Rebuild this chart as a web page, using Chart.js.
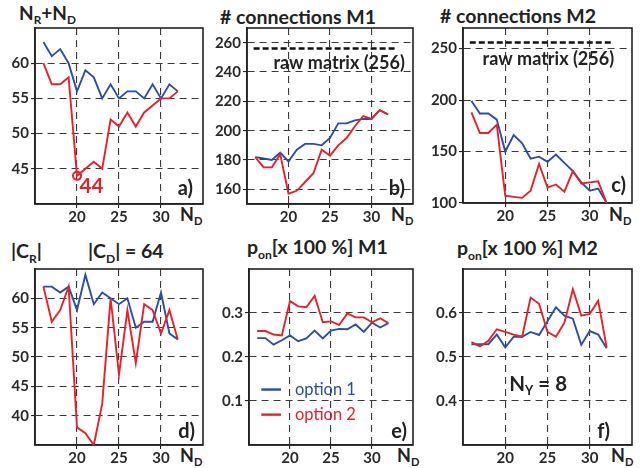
<!DOCTYPE html>
<html><head><meta charset="utf-8">
<script src="https://cdn.jsdelivr.net/npm/chart.js@4"></script>
<style>
body{margin:0;background:#fff;width:641px;height:468px;position:relative;overflow:hidden;font-family:Lato,sans-serif;}
canvas{position:absolute;}
.t{position:absolute;font-weight:bold;color:#222;white-space:nowrap;line-height:1;}
.t sub{font-size:0.62em;vertical-align:-0.38em;line-height:0;}
</style></head><body>
<div class="t" style="left:19px;top:3px;font-size:19px">N<sub>R</sub>+N<sub>D</sub></div>
<div class="t" style="left:220px;top:7px;font-size:19.5px"># connections M1</div>
<div class="t" style="left:440px;top:6px;font-size:19.5px"># connections M2</div>
<div class="t" style="left:11px;top:241px;font-size:19.5px">|C<sub>R</sub>|</div>
<div class="t" style="left:88px;top:241px;font-size:19.5px">|C<sub>D</sub>| = 64</div>
<div class="t" style="left:247px;top:237px;font-size:19.5px">p<sub>on</sub>[x 100 %] M1</div>
<div class="t" style="left:457px;top:238px;font-size:19.5px">p<sub>on</sub>[x 100 %] M2</div>
<div class="t" style="left:180px;top:205px;font-size:18px">N<sub>D</sub></div>
<div class="t" style="left:391px;top:205px;font-size:18px">N<sub>D</sub></div>
<div class="t" style="left:609px;top:205px;font-size:18px">N<sub>D</sub></div>
<div class="t" style="left:180px;top:446px;font-size:18px">N<sub>D</sub></div>
<div class="t" style="left:397px;top:446px;font-size:18px">N<sub>D</sub></div>
<div class="t" style="left:611px;top:446px;font-size:18px">N<sub>D</sub></div>
<script>
// ---- data ----
const nd = [16,17,18,19,20,21,22,23,24,25,26,27,28,29,30,31,32];
const xTicks = [20,25,30];

const nrndOpt1 = [63,61,62,60,56,59,58,55,57,55,56,56,55,57,55,57,56];
const nrndOpt2 = [60,57,57,58,44,45,46,45,52,51,53,51,53,54,55,55,56];
const yTicksA = [45,50,55,60];

const connM1Opt1 = [182,181,180,185,179,187,191,191,190,195,205,205,207,208,208,214,211];
const connM1Opt2 = [182,175,175,184,157,159,165,171,187,183,190,195,203,210,208,214,211];
const yTicksB = [160,180,200,220,240,260];

const connM2Opt1 = [199,187,187,181,150,166,158,143,145,140,147,139,131,120,112,114,100];
const connM2Opt2 = [188,168,168,176,107,106,105,112,138,115,118,111,131,119,120,121,100];
const yTicksC = [100,150,200,250];

const rawMatrix = 256;
const rawSpan = [15.8, 32.8];

const crOpt1 = [62,62,61,62,58,64,59,61,60,59,60,55,56,56,61,54,53];
const crOpt2 = [62,56,58,62,38,37,35,42,60,47,58,49,59,58,54,58,53];
const yTicksD = [40,45,50,55,60];

const ponM1Opt1 = [0.243,0.243,0.228,0.238,0.249,0.236,0.242,0.26,0.242,0.26,0.264,0.263,0.274,0.257,0.278,0.267,0.277];
const ponM1Opt2 = [0.259,0.259,0.251,0.249,0.327,0.315,0.313,0.339,0.279,0.281,0.273,0.299,0.29,0.29,0.279,0.288,0.277];
const yTicksE = [0.1,0.2,0.3];

const ponM2Opt1 = [0.529,0.529,0.529,0.551,0.522,0.546,0.546,0.557,0.55,0.581,0.613,0.594,0.587,0.528,0.559,0.551,0.52];
const ponM2Opt2 = [0.534,0.524,0.537,0.563,0.557,0.551,0.546,0.635,0.621,0.557,0.546,0.578,0.654,0.594,0.598,0.628,0.522];
const yTicksF = [0.4,0.5,0.6];

const seriesNames = ['option 1','option 2'];

// ---- styling ----
const BLUE = '#2b4ea5', RED = '#e8202a', INK = '#222';
const FONT = 'Lato, sans-serif';

function series(vals, color, order, extra){
  return Object.assign({
    data: nd.map((x,i)=>({x:x, y:vals[i]})),
    borderColor: color, borderWidth: 1.9, pointRadius: 0, tension: 0, fill: false, order: order
  }, extra||{});
}
function rawLine(){
  return {data: rawSpan.map(x=>({x:x, y:rawMatrix})), borderColor:'#111', borderWidth:2.5,
          borderDash:[6,3], pointRadius:0, order:0};
}

function drawRich(ctx, parts, x, y, size, color, align){
  ctx.save();
  ctx.fillStyle = color; ctx.textBaseline = 'alphabetic';
  let w = 0;
  parts.forEach(p=>{ ctx.font = 'bold ' + (p.sub? size*0.62 : size) + 'px ' + FONT; w += ctx.measureText(p.t).width; });
  let cx = align==='center' ? x - w/2 : (align==='right' ? x - w : x);
  parts.forEach(p=>{
    const s = p.sub? size*0.62 : size;
    ctx.font = 'bold ' + s + 'px ' + FONT;
    ctx.textAlign = 'left';
    ctx.fillText(p.t, cx, p.sub ? y + size*0.22 : y);
    cx += ctx.measureText(p.t).width;
  });
  ctx.restore();
}

function panelPlugin(notes){
  return {
    id: 'panelDeco',
    beforeDatasetsDraw(chart){
      const a = chart.chartArea, ctx = chart.ctx;
      ctx.save(); ctx.setLineDash([]); ctx.strokeStyle = INK; ctx.lineWidth = 1.6;
      ctx.strokeRect(a.left, a.top, a.right-a.left, a.bottom-a.top);
      ctx.restore();
    },
    afterDatasetsDraw(chart){
      const a = chart.chartArea, ctx = chart.ctx, xs = chart.scales.x, ys = chart.scales.y;
      notes.forEach(n=>{
        if (n.type === 'corner'){
          drawRich(ctx, [{t:n.text}], a.right - n.dx, a.bottom - n.dy, 20, INK, 'right');
        } else if (n.type === 'text'){
          drawRich(ctx, n.parts, xs.getPixelForValue(n.x), ys.getPixelForValue(n.y), n.size, n.color, n.align||'left');
        } else if (n.type === 'legend'){
          n.items.forEach((it,i)=>{
            const py = ys.getPixelForValue(it.y);
            ctx.save(); ctx.strokeStyle = it.color; ctx.lineWidth = 2.4; ctx.setLineDash([]);
            ctx.beginPath(); ctx.moveTo(xs.getPixelForValue(n.x1), py); ctx.lineTo(xs.getPixelForValue(n.x2), py); ctx.stroke();
            ctx.fillStyle = it.color; ctx.font = '16.5px ' + FONT; ctx.textBaseline = 'middle'; ctx.textAlign='left';
            ctx.fillText(it.label, xs.getPixelForValue(n.xt), py);
            ctx.restore();
          });
        }
      });
    }
  };
}

function makePanel(box, yMin, yMax, yTicks, datasets, notes){
  const padL = 44, padT = 10, padR = 14, padB = 28;
  const w = box.R - box.L + padL + padR, h = box.B - box.T + padT + padB;
  const c = document.createElement('canvas');
  c.width = w; c.height = h;
  c.style.left = (box.L - padL) + 'px'; c.style.top = (box.T - padT) + 'px';
  c.style.width = w + 'px'; c.style.height = h + 'px';
  document.body.appendChild(c);
  const tickFont = {family: FONT, weight: 'bold', size: 15};
  const grid = {color: '#3a3a3a', lineWidth: 1.1, tickLength: 4, tickColor: INK, drawTicks: true};
  const border = {display: true, color: INK, width: 1.6, dash: [7,5]};
  new Chart(c, {
    type: 'line',
    data: {datasets: datasets},
    options: {
      responsive: false, animation: false, devicePixelRatio: 1,
      layout: {padding: {left: 0, top: padT, right: padR, bottom: 0}},
      plugins: {legend: {display: false}, tooltip: {enabled: false}},
      scales: {
        x: {type: 'linear', min: 15, max: 35,
            afterBuildTicks: s => { s.ticks = xTicks.map(v => ({value: v})); },
            afterFit: s => { s.height = padB; },
            grid: grid, border: border,
            ticks: {font: tickFont, color: '#2a2a2a', padding: 0, maxRotation: 0, autoSkip: false, callback: v => String(v)}},
        y: {type: 'linear', min: yMin, max: yMax,
            afterBuildTicks: s => { s.ticks = yTicks.map(v => ({value: v})); },
            afterFit: s => { s.width = padL; },
            grid: grid, border: border,
            ticks: {font: tickFont, color: '#2a2a2a', padding: 2, autoSkip: false, callback: v => String(v)}}
      }
    },
    plugins: [panelPlugin(notes)]
  });
}

function build(){
  const minIdx = nrndOpt2.indexOf(Math.min.apply(null, nrndOpt2));
  // a)
  makePanel({L:35,R:203,T:27,B:204}, 40, 65, yTicksA, [
    series(nrndOpt1, BLUE, 2),
    series(nrndOpt2, RED, 1, {
      pointRadius: ctx => ctx.dataIndex === minIdx ? 4 : 0,
      pointBorderColor: RED, pointBackgroundColor: 'rgba(255,255,255,0)', pointBorderWidth: 2})
  ], [
    {type:'corner', text:'a)', dx:10, dy:9},
    {type:'text', parts:[{t:String(nrndOpt2[minIdx])}], x:20.3, y:41.6, size:20.5, color:RED, align:'left'}
  ]);
  // b)
  makePanel({L:247,R:413,T:27,B:204}, 150, 270, yTicksB, [
    series(connM1Opt1, BLUE, 2), series(connM1Opt2, RED, 1), rawLine()
  ], [
    {type:'corner', text:'b)', dx:8, dy:9},
    {type:'text', parts:[{t:'raw matrix (' + rawMatrix + ')'}], x:26.1, y:242, size:18, color:INK, align:'center'}
  ]);
  // c)
  makePanel({L:463,R:632,T:27,B:203}, 100, 270, yTicksC, [
    series(connM2Opt1, BLUE, 2), series(connM2Opt2, RED, 1), rawLine()
  ], [
    {type:'corner', text:'c)', dx:6, dy:11},
    {type:'text', parts:[{t:'raw matrix (' + rawMatrix + ')'}], x:25.1, y:234, size:18, color:INK, align:'center'}
  ]);
  // d)
  makePanel({L:35,R:203,T:268,B:445}, 35, 65, yTicksD, [
    series(crOpt1, BLUE, 2), series(crOpt2, RED, 1)
  ], [
    {type:'corner', text:'d)', dx:8, dy:7}
  ]);
  // e)
  makePanel({L:249,R:413,T:268,B:445}, 0, 0.4, yTicksE, [
    series(ponM1Opt1, BLUE, 2), series(ponM1Opt2, RED, 1)
  ], [
    {type:'corner', text:'e)', dx:6, dy:7},
    {type:'legend', x1:16.5, x2:18.9, xt:20.6, items:[
      {label: seriesNames[0], color: BLUE, y: 0.126},
      {label: seriesNames[1], color: RED, y: 0.069}
    ]}
  ]);
  // f)
  makePanel({L:463,R:632,T:268,B:445}, 0.3, 0.7, yTicksF, [
    series(ponM2Opt1, BLUE, 2), series(ponM2Opt2, RED, 1)
  ], [
    {type:'corner', text:'f)', dx:22, dy:7},
    {type:'text', parts:[{t:'N'},{t:'Y',sub:true},{t:' = 8'}], x:23.9, y:0.423, size:20.5, color:INK, align:'center'}
  ]);
}

if (document.fonts && document.fonts.load) {
  Promise.all([document.fonts.load('bold 15px Lato'), document.fonts.load('16px Lato')]).then(build, build);
} else build();
</script>
</body></html>
